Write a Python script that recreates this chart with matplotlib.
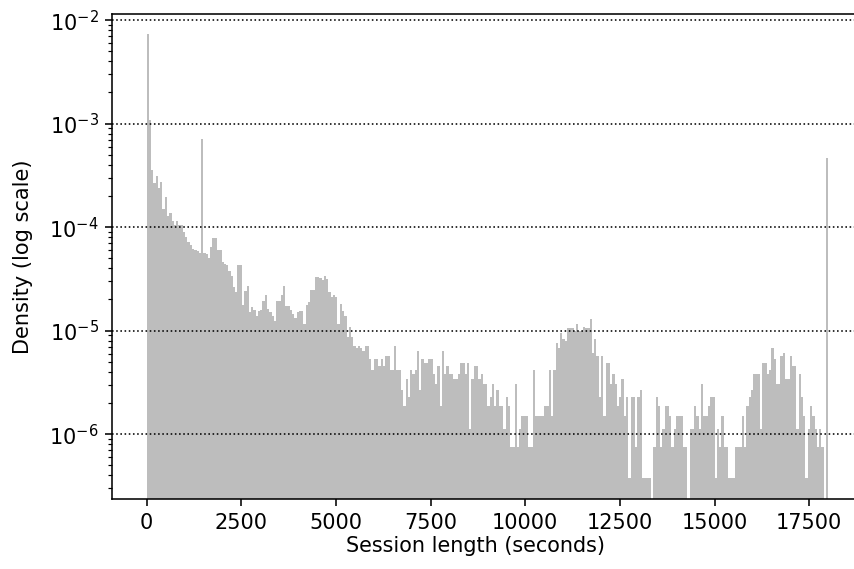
import numpy as np
import matplotlib
matplotlib.use("Agg")
import matplotlib.pyplot as plt

# Histogram of session lengths: 300 bins of 60 s on [0, 18000]
bin_width = 60
n_bins = 300
n_sessions = 44200  # normalisation for the density

# sessions per bin
counts = [
    19300, 2860, 937, 713, 826, 628, 718, 393, 514, 339,
    362, 301, 281, 303, 275, 275, 239, 214, 191, 177,
    164, 160, 155, 150, 1870, 150, 147, 133, 172, 206,
    206, 160, 160, 123, 117, 113, 100, 90, 70, 63,
    115, 115, 47, 64, 71, 40, 45, 42, 37, 41,
    42, 51, 59, 43, 40, 37, 33, 51, 51, 58,
    71, 46, 46, 42, 38, 35, 40, 41, 41, 31,
    47, 50, 66, 65, 88, 88, 85, 81, 90, 83,
    62, 56, 59, 56, 31, 48, 41, 37, 23, 29,
    23, 19, 18, 19, 18, 17, 19, 19, 14, 11,
    14, 14, 12, 14, 12, 15, 15, 11, 11, 19,
    11, 11, 7, 5, 9, 6, 11, 10, 11, 17,
    7, 14, 13, 13, 14, 14, 10, 8, 12, 5,
    17, 10, 12, 10, 10, 9, 9, 10, 13, 13,
    10, 13, 3, 9, 12, 12, 9, 10, 8, 8,
    5, 6, 8, 5, 7, 5, 5, 3, 6, 5,
    2, 2, 8, 2, 3, 4, 4, 4, 2, 2,
    11, 4, 4, 4, 4, 5, 5, 11, 4, 11,
    20, 18, 25, 22, 21, 28, 28, 28, 26, 31,
    26, 26, 29, 28, 28, 34, 16, 22, 15, 6,
    15, 4, 13, 13, 8, 10, 8, 5, 6, 9,
    4, 6, 1, 6, 6, 2, 6, 7, 1, 1,
    1, 1, 0, 2, 6, 5, 2, 3, 5, 5,
    4, 2, 3, 4, 4, 4, 2, 2, 0, 3,
    3, 5, 4, 3, 8, 4, 4, 5, 6, 6,
    1, 3, 2, 4, 2, 2, 1, 1, 1, 2,
    2, 2, 4, 2, 5, 6, 7, 10, 10, 10,
    3, 13, 13, 10, 11, 18, 14, 8, 8, 15,
    16, 9, 9, 15, 12, 12, 3, 10, 6, 4,
    1, 3, 5, 4, 3, 2, 3, 2, 0, 1225,
]
assert len(counts) == n_bins

x_ticks = [0, 2500, 5000, 7500, 10000, 12500, 15000, 17500]
y_ticks = [1e-6, 1e-5, 1e-4, 1e-3, 1e-2]

edges = np.arange(n_bins + 1) * bin_width
density = np.array(counts, dtype=float) / (n_sessions * bin_width)

DPI = 854 / 6
fig = plt.figure(figsize=(6, 4), dpi=DPI)
ax = fig.add_axes([0.1317, 0.1225, 0.878, 0.853])

ax.hist(edges[:-1], bins=edges, weights=density, color="#bdbdbd",
        log=True, linewidth=0)

ax.set_xlim(-900, 18900)
ax.set_ylim(2.346e-7, 1.156e-2)
ax.set_xticks(x_ticks)
ax.set_xticklabels([str(t) for t in x_ticks])
ax.set_yticks(y_ticks)
ax.tick_params(labelsize=10.6)
ax.set_xlabel("Session length (seconds)", fontsize=10.5)
ax.set_ylabel("Density (log scale)", fontsize=10.6, labelpad=8)
ax.xaxis.set_label_coords(0.4836, -0.075)

ax.set_axisbelow(False)
ax.yaxis.grid(True, which="major", linestyle=":", color="black", linewidth=0.8)
ax.xaxis.grid(False)

fig.savefig("out.png", dpi=DPI)
